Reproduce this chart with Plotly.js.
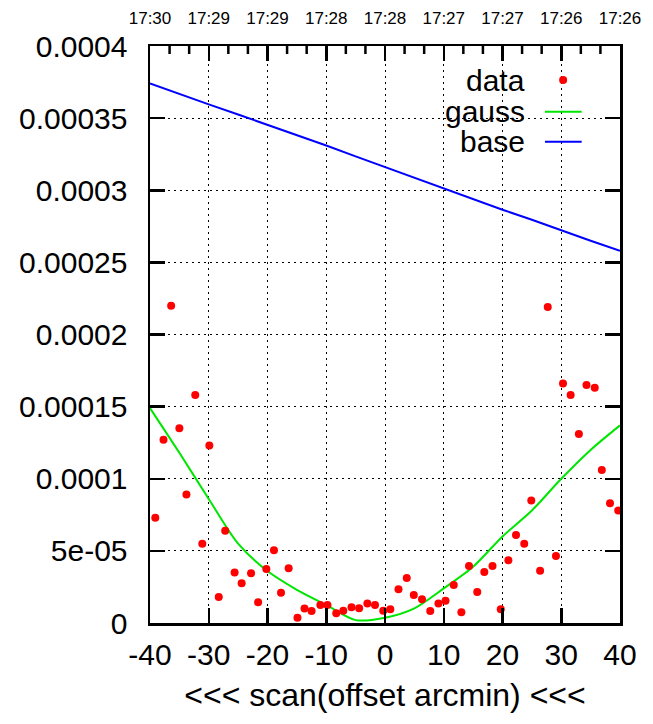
<!DOCTYPE html>
<html>
<head>
<meta charset="utf-8">
<script src="https://cdn.plot.ly/plotly-3.0.1.min.js"></script>
<style>html,body{margin:0;padding:0;background:#fff;}#chart{width:653px;height:724px;}</style>
</head>
<body>
<div id="chart"></div>
<script>
// ---- data ----
const offsets = [-39.1,-37.7,-36.4,-35.0,-33.8,-32.3,-31.1,-29.9,-28.3,-27.2,-25.6,-24.4,-22.8,-21.6,-20.2,-18.9,-17.7,-16.4,-14.9,-13.7,-12.5,-11.0,-9.8,-8.3,-7.1,-5.7,-4.4,-3.0,-1.7,-0.3,0.9,2.3,3.7,4.9,6.3,7.7,9.1,10.3,11.7,13.0,14.3,15.7,16.9,18.3,19.7,21.0,22.3,23.7,24.9,26.4,27.7,29.1,30.3,31.6,33.0,34.3,35.7,36.9,38.3,39.7];
const dataValues = [73e-6,127e-6,220e-6,135e-6,89e-6,158e-6,55e-6,123e-6,18e-6,64e-6,35e-6,27.5e-6,34.5e-6,14.3e-6,37.5e-6,50.5e-6,21e-6,38e-6,3.7e-6,10e-6,8.3e-6,12.5e-6,12.5e-6,6.7e-6,8.5e-6,10.9e-6,10.2e-6,13.6e-6,12.5e-6,8.5e-6,9.5e-6,23.4e-6,31.2e-6,19.4e-6,16.4e-6,8.3e-6,13.6e-6,15.5e-6,26.3e-6,7.4e-6,39.5e-6,21.5e-6,35.4e-6,39.5e-6,9.5e-6,43.5e-6,61e-6,55e-6,85e-6,36.3e-6,219e-6,46.4e-6,166e-6,158e-6,131e-6,165e-6,163e-6,106e-6,83e-6,78e-6];

const gaussX = [-40,-35,-30,-25,-20,-15,-10,-5,0,5,10,15,20,25,30,35,40];
const gaussValues = [149e-6,118e-6,86e-6,55e-6,36e-6,23e-6,12.5e-6,2e-6,3.7e-6,10.2e-6,24e-6,39e-6,60e-6,78e-6,100e-6,120e-6,137e-6];

const baseX = [-40,-35,-30,-25,-20,-17,-15,-10,-5,0,5,10,15,20,25,27,30,35,40];
const baseValues = [374e-6,366.5e-6,359.5e-6,352.5e-6,345.5e-6,341e-6,338e-6,331e-6,323.5e-6,316e-6,309e-6,301.5e-6,294e-6,286.5e-6,279.5e-6,276.5e-6,272.5e-6,265e-6,258e-6];

const xTicks = [-40,-30,-20,-10,0,10,20,30,40];
const xTickLabels = ['-40','-30','-20','-10','0','10','20','30','40'];
const topTickLabels = ['17:30','17:29','17:29','17:28','17:28','17:27','17:27','17:26','17:26'];
const yTicks = [0,0.00005,0.0001,0.00015,0.0002,0.00025,0.0003,0.00035,0.0004];
const yTickLabels = ['0','5e-05','0.0001','0.00015','0.0002','0.00025','0.0003','0.00035','0.0004'];
const legendNames = ['data','gauss','base'];
const xTitle = '<<< scan(offset arcmin) <<<';

// minor tick positions on the top axis: thirds of each major interval
const topMinor = [];
for (let i = 0; i < xTicks.length - 1; i++) {
  const a = xTicks[i], b = xTicks[i + 1];
  topMinor.push(a + (b - a) / 3, a + 2 * (b - a) / 3);
}

// ---- chart ----
const FONT = 'Liberation Sans, Arial, sans-serif';
const PLOT_H = 724 - 46 - 101;
const traces = [
  {x: gaussX, y: gaussValues, type:'scatter', mode:'lines', name:legendNames[1],
   line:{color:'#00e600', width:2, shape:'spline', smoothing:0.8}, showlegend:false, hoverinfo:'skip'},
  {x: baseX, y: baseValues, type:'scatter', mode:'lines', name:legendNames[2], xaxis:'x2',
   line:{color:'#0000ff', width:2}, showlegend:false, hoverinfo:'skip'},
  {x: offsets, y: dataValues, type:'scatter', mode:'markers', name:legendNames[0],
   marker:{color:'#ff0000', size:8}, showlegend:false, hoverinfo:'skip'}
];

const gridDash = '2px,4px';
const shapes = [
  {type:'circle', xref:'paper', yref:'paper', xsizemode:'pixel', ysizemode:'pixel', xanchor:0.879, yanchor:0.941, x0:-4, x1:4, y0:-4, y1:4, fillcolor:'#ff0000', line:{width:0}},
  {type:'line', xref:'paper', yref:'paper', x0:0.8404, x1:0.9185, y0:0.886, y1:0.886, line:{color:'#00e600', width:2}},
  {type:'line', xref:'paper', yref:'paper', x0:0.8404, x1:0.9185, y0:0.834, y1:0.834, line:{color:'#0000ff', width:2}}
];
// top-axis minor tick marks
topMinor.forEach(v => shapes.push({type:'line', xref:'x', yref:'paper', x0:v, x1:v, y0:1, y1:1 - 8 / PLOT_H, line:{color:'#000', width:2.5}}));

const layout = {
  width:653, height:724,
  margin:{l:150, r:33, t:46, b:101, pad:0},
  paper_bgcolor:'#fff', plot_bgcolor:'#fff',
  font:{family:FONT, color:'#000', size:30},
  xaxis:{
    range:[-40,40], tickmode:'array', tickvals:xTicks, ticktext:xTickLabels,
    ticks:'inside', ticklen:15, tickwidth:2.5, tickcolor:'#000',
    showline:true, linecolor:'#000', linewidth:2.5, mirror:'ticks',
    showgrid:true, gridcolor:'#000', gridwidth:1, griddash:gridDash,
    zeroline:false, tickfont:{size:30, family:FONT}, ticklabelstandoff:3,
    title:{text:xTitle, font:{size:32, family:FONT}, standoff:14}
  },
  xaxis2:{
    overlaying:'x', side:'top', range:[-40,40], tickmode:'array', tickvals:xTicks, ticktext:topTickLabels,
    ticks:'', showline:false,
    showgrid:false, zeroline:false, tickfont:{size:17, family:FONT}, ticklabelstandoff:18
  },
  yaxis:{
    range:[0,0.0004], tickmode:'array', tickvals:yTicks, ticktext:yTickLabels,
    ticks:'inside', ticklen:15, tickwidth:2.5, tickcolor:'#000',
    showline:true, linecolor:'#000', linewidth:2.5, mirror:'ticks',
    showgrid:true, gridcolor:'#000', gridwidth:1, griddash:gridDash,
    zeroline:false, tickfont:{size:30, family:FONT}, ticklabelstandoff:14
  },
  annotations:[
    {xref:'paper', yref:'paper', x:0.802, y:0.941, text:legendNames[0], showarrow:false, xanchor:'right', yanchor:'middle', font:{size:30, family:FONT}},
    {xref:'paper', yref:'paper', x:0.802, y:0.886, text:legendNames[1], showarrow:false, xanchor:'right', yanchor:'middle', font:{size:30, family:FONT}},
    {xref:'paper', yref:'paper', x:0.802, y:0.834, text:legendNames[2], showarrow:false, xanchor:'right', yanchor:'middle', font:{size:30, family:FONT}}
  ],
  shapes: shapes
};
Plotly.newPlot('chart', traces, layout, {staticPlot:true, displayModeBar:false});
</script>
</body>
</html>
